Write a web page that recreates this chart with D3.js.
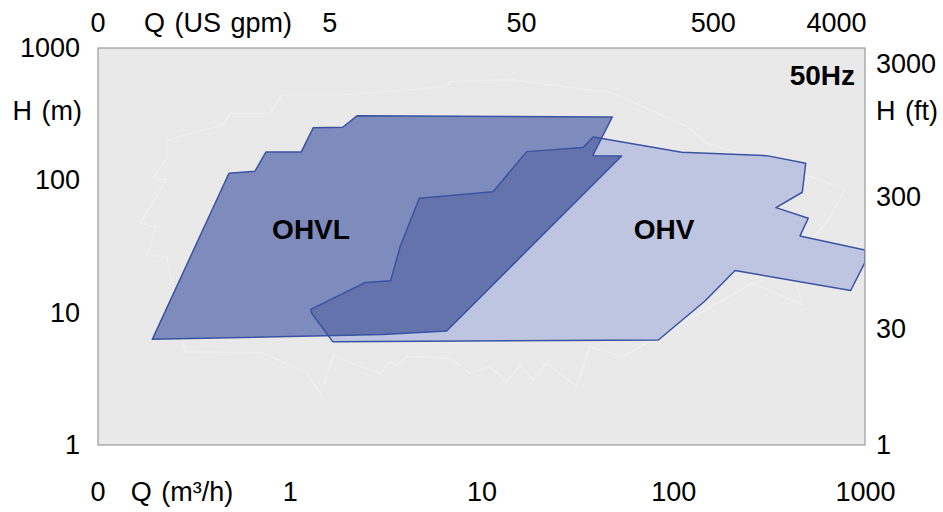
<!DOCTYPE html>
<html>
<head>
<meta charset="utf-8">
<script src="https://cdn.jsdelivr.net/npm/d3@7"></script>
<style>
  body { margin: 0; background: #fff; }
  text { font-family: "Liberation Sans", Arial, Helvetica, sans-serif; }
</style>
</head>
<body>
<svg id="chart" width="943" height="512"></svg>
<script>
// flow Q (m3/h) and head H (m) of each envelope
const ohvlQ = [0.192, 0.482, 0.659, 0.752, 1.149, 1.327, 1.888, 2.25, 48.1, 38.0, 53.8, 6.58, 3.06];
const ohvlH = [6.29, 113.2, 117.2, 163.9, 164, 250, 252, 308, 301, 153.7, 152.9, 7.27, 6.84];

const ohvQ = [38.3, 110.7, 307, 490.6, 471, 343.5, 506, 458, 1000, 1000, 842, 209.9, 146.4, 83.6,
    1.675, 1.302, 1.286, 2.48, 3.36, 3.76, 4.74, 11.5, 17.2, 33.8];
const ohvH = [212.8, 163.1, 153.7, 134.7, 81.3, 62.2, 51.7, 38.0, 29.8, 24.0, 14.7, 20.8, 12.26, 6.22,
    6.04, 9.9, 10.6, 16.9, 17.4, 31.5, 73.2, 82.1, 164.8, 177.3];

// faint outline in the background
const bgQ = [0.228, 0.450, 0.488, 0.789, 0.908, 1.902, 6.58, 6.85, 8.71, 14.6, 48.5, 117.5, 149.4, 496.6,
    786, 631, 406, 475, 331, 260, 54.7, 36.8, 31.4, 21.9, 18.6, 15.9, 13.5, 11.1, 8.71, 6.85, 4.07, 3.61,
    3.33, 2.96, 1.69, 1.44, 1.23, 0.725, 0.284, 0.228, 0.179, 0.202, 0.166, 0.228, 0.194, 0.228];
const bgH = [202, 262, 321, 321, 442, 442, 511, 557, 567, 574, 458, 255, 191, 110, 84.6, 47.4, 24.2, 11.4,
    14.3, 16.8, 4.65, 5.53, 2.76, 4.15, 3.10, 4.02, 3.01, 3.91, 3.48, 4.52, 4.65, 4.02, 4.26, 3.48, 4.65,
    2.46, 3.48, 4.96, 5.07, 26.5, 27.3, 44.7, 47.4, 100.7, 103.7, 147];

const bottomTicks = [1, 10, 100, 1000];
const topTicks = [5, 50, 500, 4000];
const leftTicks = [1000, 100, 10, 1];
const rightTicks = [3000, 300, 30];

const GPM_PER_M3H = 4.403;
const FT_PER_M = 3.281;

const svg = d3.select('#chart');
const pLeft = 98, pRight = 865, pTop = 48, pBottom = 445;
const FS = 27;

const x = d3.scaleLog().domain([0.1, 1000]).range([pLeft, pRight]);
const y = d3.scaleLog().domain([1, 1000]).range([pBottom, pTop]);
const xGpm = d3.scaleLog().domain([0.1 * GPM_PER_M3H, 1000 * GPM_PER_M3H]).range([pLeft, pRight]);
const yFt = d3.scaleLog().domain([FT_PER_M, 1000 * FT_PER_M]).range([pBottom, pTop]);

const defs = svg.append('defs');
defs.append('clipPath').attr('id', 'plot')
    .append('rect')
    .attr('x', pLeft).attr('y', pTop)
    .attr('width', pRight - pLeft).attr('height', pBottom - pTop);

svg.append('rect')
    .attr('x', pLeft).attr('y', pTop)
    .attr('width', pRight - pLeft).attr('height', pBottom - pTop)
    .attr('fill', '#e9e9e9');

const line = d3.line()
    .x((d) => x(d[0]))
    .y((d) => y(d[1]))
    .curve(d3.curveLinearClosed);

const bgPts = d3.zip(bgQ, bgH);
const ohvlPts = d3.zip(ohvlQ, ohvlH);
const ohvPts = d3.zip(ohvQ, ohvH);

const plot = svg.append('g').attr('clip-path', 'url(#plot)');

plot.append('path')
    .attr('d', line(bgPts))
    .attr('fill', 'none')
    .attr('stroke', '#f4f4f4')
    .attr('stroke-width', 1.4)
    .attr('opacity', 0.55);

defs.append('clipPath').attr('id', 'ohvClip')
    .append('path').attr('d', line(ohvPts));

plot.append('path').attr('d', line(ohvPts)).attr('fill', '#bdc5e1');
plot.append('path').attr('d', line(ohvlPts)).attr('fill', '#7e8cbd');
plot.append('g').attr('clip-path', 'url(#ohvClip)')
    .append('path').attr('d', line(ohvlPts)).attr('fill', '#6573ad');

[ohvPts, ohvlPts].forEach(function (pts) {
    plot.append('path')
        .attr('d', line(pts))
        .attr('fill', 'none')
        .attr('stroke', '#3a53a2')
        .attr('stroke-width', 1.5)
        .attr('stroke-linejoin', 'round');
});

svg.append('rect')
    .attr('x', pLeft).attr('y', pTop)
    .attr('width', pRight - pLeft).attr('height', pBottom - pTop)
    .attr('fill', 'none')
    .attr('stroke', '#9a9a9a')
    .attr('stroke-width', 1.2);

//------------------------------------------------------------------------------
const styleAxis = function (g) {
    g.select('.domain').remove();
    g.selectAll('.tick line').remove();
    g.selectAll('text')
        .attr('fill', '#000')
        .style('font-size', FS + 'px')
        .style('font-family', '"Liberation Sans", Arial, sans-serif');
};

svg.append('g')
    .attr('transform', `translate(0,${pBottom})`)
    .call(d3.axisBottom(x).tickValues(bottomTicks).tickFormat(d3.format('d')).tickSize(0).tickPadding(37))
    .call(styleAxis);

const topAxis = svg.append('g')
    .attr('transform', `translate(29,${pTop})`)
    .call(d3.axisTop(xGpm).tickValues(topTicks).tickFormat(d3.format('d')).tickSize(0).tickPadding(16))
    .call(styleAxis);

// keep the last top label inside the frame
topAxis.selectAll('.tick').each(function (d) {
    const t = d3.select(this).select('text');
    const w = t.node().getComputedTextLength();
    const cx = xGpm(d) + 29;
    if (cx + w / 2 > pRight + 1) t.attr('x', pRight + 1 - w / 2 - cx);
});

svg.append('g')
    .attr('transform', `translate(${pLeft},0)`)
    .call(d3.axisLeft(y).tickValues(leftTicks).tickFormat(d3.format('d')).tickSize(0).tickPadding(18))
    .call(styleAxis);

svg.append('g')
    .attr('transform', `translate(${pRight},11)`)
    .call(d3.axisRight(yFt).tickValues(rightTicks).tickFormat(d3.format('d')).tickSize(0).tickPadding(11))
    .call(styleAxis);

const label = function (tx, ty, str, anchor, size, weight) {
    svg.append('text')
        .attr('x', tx).attr('y', ty)
        .attr('text-anchor', anchor)
        .attr('dominant-baseline', 'central')
        .style('font-size', size + 'px')
        .style('font-weight', weight || 'normal')
        .style('word-spacing', weight ? '0px' : '2px')
        .text(str);
};

label(pLeft, 492, '0', 'middle', FS);
label(182, 492, 'Q (m³/h)', 'middle', FS);
label(pLeft, 23, '0', 'middle', FS);
label(218, 23, 'Q (US gpm)', 'middle', FS);
label(82, 111, 'H (m)', 'end', FS);
label(876, 111, 'H (ft)', 'start', FS);
label(876, y(1), '1', 'start', FS);
label(855, 75, '50Hz', 'end', 28, 'bold');
label(311, 229, 'OHVL', 'middle', 28, 'bold');
label(664, 229, 'OHV', 'middle', 28, 'bold');
</script>
</body>
</html>
